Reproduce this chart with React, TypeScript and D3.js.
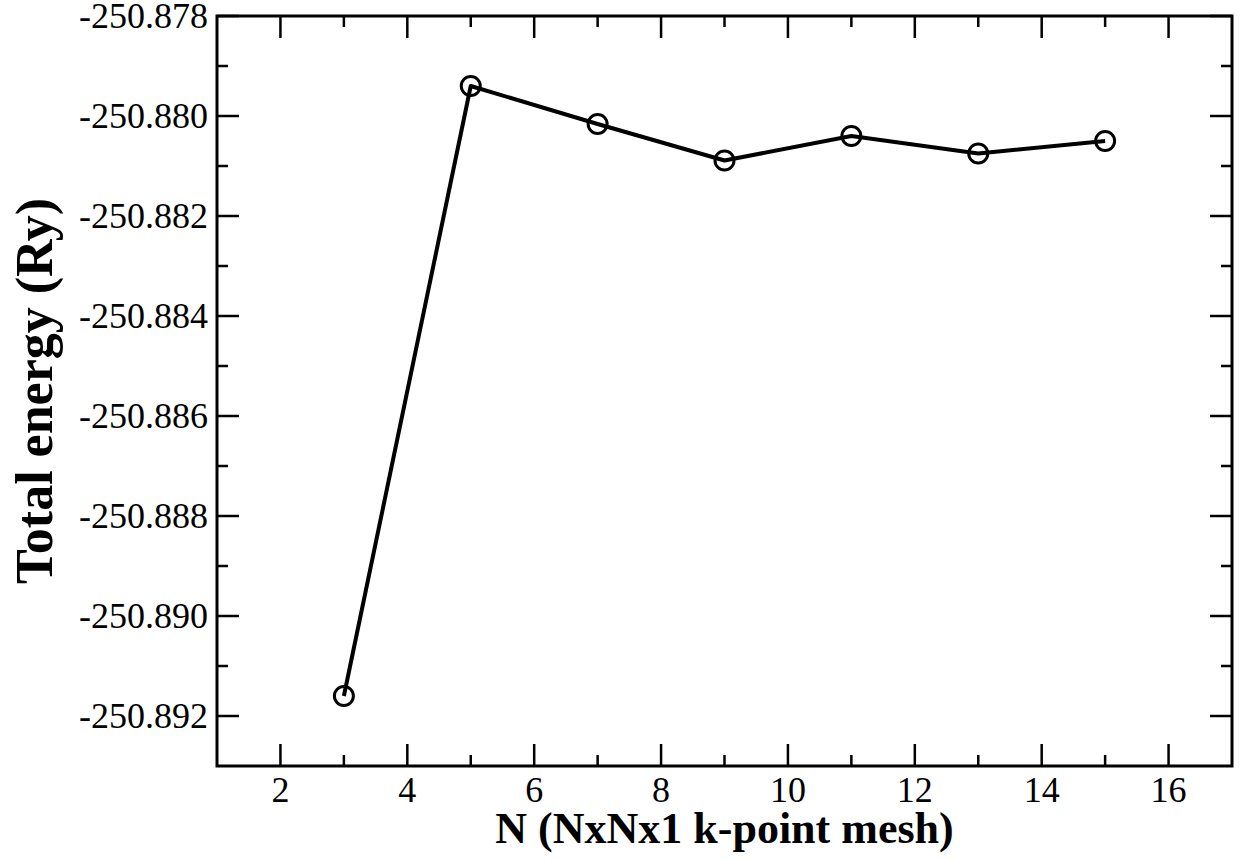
import React from "react";
import * as d3 from "d3";

// k-point mesh size N and total energy (Ry)
const meshN = [3, 5, 7, 9, 11, 13, 15];
const energy = [-250.8916, -250.8794, -250.88016, -250.88089, -250.8804, -250.88075, -250.8805];

const xMajor = [2, 4, 6, 8, 10, 12, 14, 16];
const xMinor = [3, 5, 7, 9, 11, 13, 15];
const yMajor = [-250.878, -250.88, -250.882, -250.884, -250.886, -250.888, -250.89, -250.892];
const yMinor = [-250.879, -250.881, -250.883, -250.885, -250.887, -250.889, -250.891];

const W = 1243;
const H = 861;
const margin = { top: 16, right: 11, bottom: 95, left: 217 };
const font = "Liberation Serif, Times New Roman, serif";

const App = () => {
  const x = d3.scaleLinear().domain([1, 17]).range([margin.left, W - margin.right]);
  const y = d3.scaleLinear().domain([-250.893, -250.878]).range([H - margin.bottom, margin.top]);

  const [x0, x1] = x.range();
  const [y0, y1] = y.range(); // y0 bottom, y1 top

  const line = d3
    .line<number>()
    .x((_, i) => x(meshN[i]))
    .y((d) => y(d));

  const major = 22;
  const minor = 11;

  return (
    <div style={{ position: "absolute", left: 0, top: 0, background: "#fff" }}>
      <svg width={W} height={H} style={{ display: "block" }}>
        <rect width={W} height={H} fill="#fff" />

        {/* ticks, pointing inward on all four sides */}
        <g stroke="#000" strokeWidth={2.5}>
          {xMajor.map((v) => (
            <g key={"xM" + v}>
              <line x1={x(v)} x2={x(v)} y1={y0} y2={y0 - major} />
              <line x1={x(v)} x2={x(v)} y1={y1} y2={y1 + major} />
            </g>
          ))}
          {xMinor.map((v) => (
            <g key={"xm" + v}>
              <line x1={x(v)} x2={x(v)} y1={y0} y2={y0 - minor} />
              <line x1={x(v)} x2={x(v)} y1={y1} y2={y1 + minor} />
            </g>
          ))}
          {yMajor.map((v) => (
            <g key={"yM" + v}>
              <line x1={x0} x2={x0 + major} y1={y(v)} y2={y(v)} />
              <line x1={x1} x2={x1 - major} y1={y(v)} y2={y(v)} />
            </g>
          ))}
          {yMinor.map((v) => (
            <g key={"ym" + v}>
              <line x1={x0} x2={x0 + minor} y1={y(v)} y2={y(v)} />
              <line x1={x1} x2={x1 - minor} y1={y(v)} y2={y(v)} />
            </g>
          ))}
        </g>

        <rect
          x={x0}
          y={y1}
          width={x1 - x0}
          height={y0 - y1}
          fill="none"
          stroke="#000"
          strokeWidth={3}
        />

        {/* tick labels */}
        <g style={{ fontFamily: font, fontSize: 36 }} fill="#000">
          {xMajor.map((v) => (
            <text key={"xl" + v} x={x(v)} y={y0 + 36} textAnchor="middle">
              {v}
            </text>
          ))}
          {yMajor.map((v) => (
            <text key={"yl" + v} x={x0 - 9} y={y(v) + 12} textAnchor="end">
              {d3.format(".3f")(v).replace("−", "-")}
            </text>
          ))}
        </g>

        {/* series */}
        <path d={line(energy) || ""} fill="none" stroke="#000" strokeWidth={4} strokeLinejoin="round" />
        {energy.map((v, i) => (
          <circle key={"p" + i} cx={x(meshN[i])} cy={y(v)} r={9.5} fill="none" stroke="#000" strokeWidth={3} />
        ))}

        {/* axis titles */}
        <text
          x={(x0 + x1) / 2}
          y={843}
          textAnchor="middle"
          style={{ fontFamily: font, fontWeight: "bold", fontSize: 44 }}
        >
          N (NxNx1 k-point mesh)
        </text>
        <text
          transform={`translate(52, ${(y0 + y1) / 2}) rotate(-90)`}
          textAnchor="middle"
          style={{ fontFamily: font, fontWeight: "bold", fontSize: 52 }}
        >
          Total energy (Ry)
        </text>
      </svg>
    </div>
  );
};

export default App;
